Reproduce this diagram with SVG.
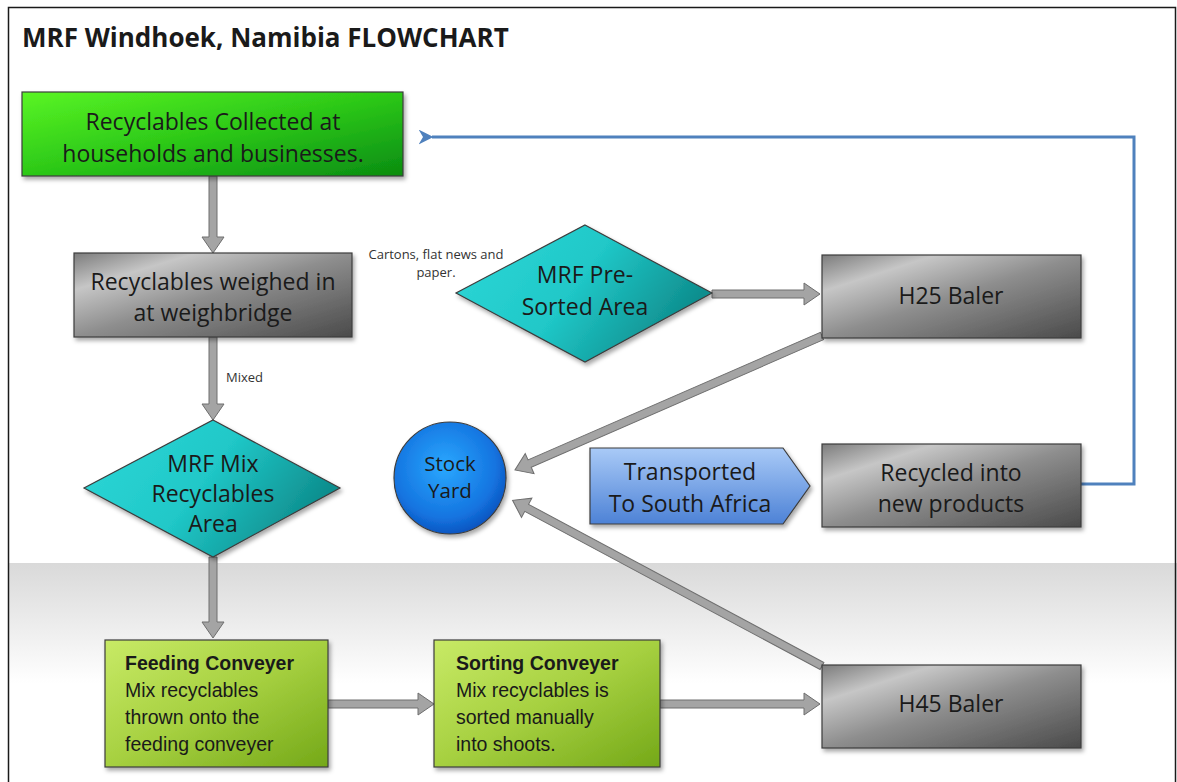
<svg xmlns="http://www.w3.org/2000/svg" width="1177" height="782" viewBox="0 0 1177 782">
<defs>
<linearGradient id="band" x1="0" y1="0" x2="0" y2="1"><stop offset="0" stop-color="#d9d9d9"/><stop offset="0.55" stop-color="#ffffff"/><stop offset="1" stop-color="#ffffff"/></linearGradient>
<linearGradient id="green" x1="0" y1="0" x2="1" y2="1"><stop offset="0" stop-color="#5af524"/><stop offset="0.5" stop-color="#2cc818"/><stop offset="1" stop-color="#0a8c10"/></linearGradient>
<linearGradient id="gray" x1="0" y1="0" x2="1" y2="1"><stop offset="0" stop-color="#7c7c7c"/><stop offset="0.22" stop-color="#c6c6c6"/><stop offset="0.5" stop-color="#8e8e8e"/><stop offset="0.75" stop-color="#6c6c6c"/><stop offset="1" stop-color="#4a4a4a"/></linearGradient>
<linearGradient id="cyan" x1="0" y1="0" x2="1" y2="0.4"><stop offset="0" stop-color="#2ed8d8"/><stop offset="0.55" stop-color="#20c8c8"/><stop offset="1" stop-color="#0e8e8e"/></linearGradient>
<linearGradient id="lime" x1="0" y1="0" x2="1" y2="1"><stop offset="0" stop-color="#c8ea66"/><stop offset="0.5" stop-color="#a6d040"/><stop offset="1" stop-color="#74a818"/></linearGradient>
<linearGradient id="blue" x1="0" y1="0" x2="0" y2="1"><stop offset="0" stop-color="#a9caf7"/><stop offset="1" stop-color="#4d82d6"/></linearGradient>
<radialGradient id="ball" cx="0.45" cy="0.4" r="0.65"><stop offset="0" stop-color="#2aa8ff"/><stop offset="0.7" stop-color="#1474e0"/><stop offset="1" stop-color="#0a4cb8"/></radialGradient>
<filter id="sh" x="-10%" y="-10%" width="125%" height="130%"><feDropShadow dx="2" dy="3" stdDeviation="2" flood-color="#000" flood-opacity="0.35"/></filter>
<marker id="blueHead" viewBox="0 0 10 10" refX="1" refY="5" markerWidth="5" markerHeight="5" orient="auto"><path d="M10,0 L0,5 L10,10 L7,5 Z" fill="#4f81bd"/></marker>
</defs>
<style>
.t{font-family:"Open Sans","Liberation Sans",Arial,sans-serif;fill:#1a1a1a;text-anchor:middle}
.n{font-size:23px}
.s{font-size:13px;fill:#333}
.c{font-family:"Liberation Sans",Arial,sans-serif;font-size:19.5px;fill:#1a1a1a}
.box{stroke:#3c3c3c;stroke-width:1.2;filter:url(#sh)}
.arr{fill:#a4a4a4;stroke:#6e6e6e;stroke-width:1}
</style>
<rect x="0" y="0" width="1177" height="782" fill="#ffffff"/>
<rect x="9" y="563" width="1168" height="219" fill="url(#band)"/>
<rect x="8.5" y="7.5" width="1167" height="780" fill="none" stroke="#1a1a1a" stroke-width="1.5"/>
<text x="22" y="47" font-family="Open Sans, Liberation Sans, Arial, sans-serif" font-size="26" font-weight="bold" fill="#1a1a1a">MRF Windhoek, Namibia FLOWCHART</text>

<g id="connectors">
<polygon class="arr" transform="translate(213,176) rotate(90)" points="0,-4 61,-4 61,-11 77,0 61,11 61,4 0,4"/>
<polygon class="arr" transform="translate(213,337) rotate(90)" points="0,-4 67,-4 67,-11 83,0 67,11 67,4 0,4"/>
<polygon class="arr" transform="translate(213,557) rotate(90)" points="0,-4 65,-4 65,-11 81,0 65,11 65,4 0,4"/>
<polygon class="arr" transform="translate(328,704)" points="0,-4 90,-4 90,-11 106,0 90,11 90,4 0,4"/>
<polygon class="arr" transform="translate(660,704)" points="0,-4 144,-4 144,-11 160,0 144,11 144,4 0,4"/>
<polygon class="arr" transform="translate(712,294)" points="0,-4 92,-4 92,-11 108,0 92,11 92,4 0,4"/>
<polygon class="arr" transform="translate(822,336) rotate(156.42)" points="0,-4 319,-4 319,-11 335,0 319,11 319,4 0,4"/>
<polygon class="arr" transform="translate(822,666) rotate(-151.83)" points="0,-4 335,-4 335,-11 351,0 335,11 335,4 0,4"/>
<polyline points="1081,484 1134,484 1134,137 432,137" fill="none" stroke="#4f81bd" stroke-width="3" marker-end="url(#blueHead)"/>
<text class="t s" x="226" y="382" style="text-anchor:start">Mixed</text>
<text class="t s" x="436" y="259">Cartons, flat news and</text>
<text class="t s" x="436" y="277">paper.</text>
</g>

<g id="collected">
<rect class="box" x="22" y="92" width="381" height="84" fill="url(#green)"/>
<text class="t n" x="213" y="130">Recyclables Collected at</text>
<text class="t n" x="213" y="162">households and businesses.</text>
</g>

<g id="weighbridge">
<rect class="box" x="74" y="253" width="278" height="84" fill="url(#gray)"/>
<text class="t n" x="213" y="290">Recyclables weighed in</text>
<text class="t n" x="213" y="321">at weighbridge</text>
</g>

<g id="mix-area">
<polygon class="box" points="213,420 340,488 213,557 84,488" fill="url(#cyan)" stroke="#1a8a8a"/>
<text class="t n" x="213" y="472">MRF Mix</text>
<text class="t n" x="213" y="502">Recyclables</text>
<text class="t n" x="213" y="532">Area</text>
</g>

<g id="pre-sorted">
<polygon class="box" points="585,225 712,293 585,362 456,293" fill="url(#cyan)" stroke="#1a8a8a"/>
<text class="t n" x="585" y="283">MRF Pre-</text>
<text class="t n" x="585" y="315">Sorted Area</text>
</g>

<g id="h25">
<rect class="box" x="822" y="255" width="259" height="83" fill="url(#gray)"/>
<text class="t n" x="951" y="304">H25 Baler</text>
</g>

<g id="recycled">
<rect class="box" x="822" y="444" width="259" height="83" fill="url(#gray)"/>
<text class="t n" x="951" y="481">Recycled into</text>
<text class="t n" x="951" y="512">new products</text>
</g>

<g id="transported">
<polygon class="box" points="590,448 783,448 810,486 783,524 590,524" fill="url(#blue)" stroke="#5a86c8" stroke-width="1"/>
<text class="t n" x="690" y="480">Transported</text>
<text class="t n" x="690" y="512">To South Africa</text>
</g>

<g id="stockyard">
<circle class="box" cx="450" cy="478" r="56" fill="url(#ball)" stroke="#1050a8"/>
<text class="t" x="450" y="471" font-size="20.5">Stock</text>
<text class="t" x="450" y="498" font-size="20.5">Yard</text>
</g>

<g id="feeding">
<rect class="box" x="105" y="640" width="223" height="127" fill="url(#lime)" stroke="#6a9a20"/>
<text class="c" x="125" y="670" font-weight="bold">Feeding Conveyer</text>
<text class="c" x="125" y="697">Mix recyclables</text>
<text class="c" x="125" y="724">thrown onto the</text>
<text class="c" x="125" y="751">feeding conveyer</text>
</g>

<g id="sorting">
<rect class="box" x="434" y="640" width="226" height="127" fill="url(#lime)" stroke="#6a9a20"/>
<text class="c" x="456" y="670" font-weight="bold">Sorting Conveyer</text>
<text class="c" x="456" y="697">Mix recyclables is</text>
<text class="c" x="456" y="724">sorted manually</text>
<text class="c" x="456" y="751">into shoots.</text>
</g>

<g id="h45">
<rect class="box" x="822" y="665" width="259" height="83" fill="url(#gray)"/>
<text class="t n" x="951" y="712">H45 Baler</text>
</g>
</svg>
